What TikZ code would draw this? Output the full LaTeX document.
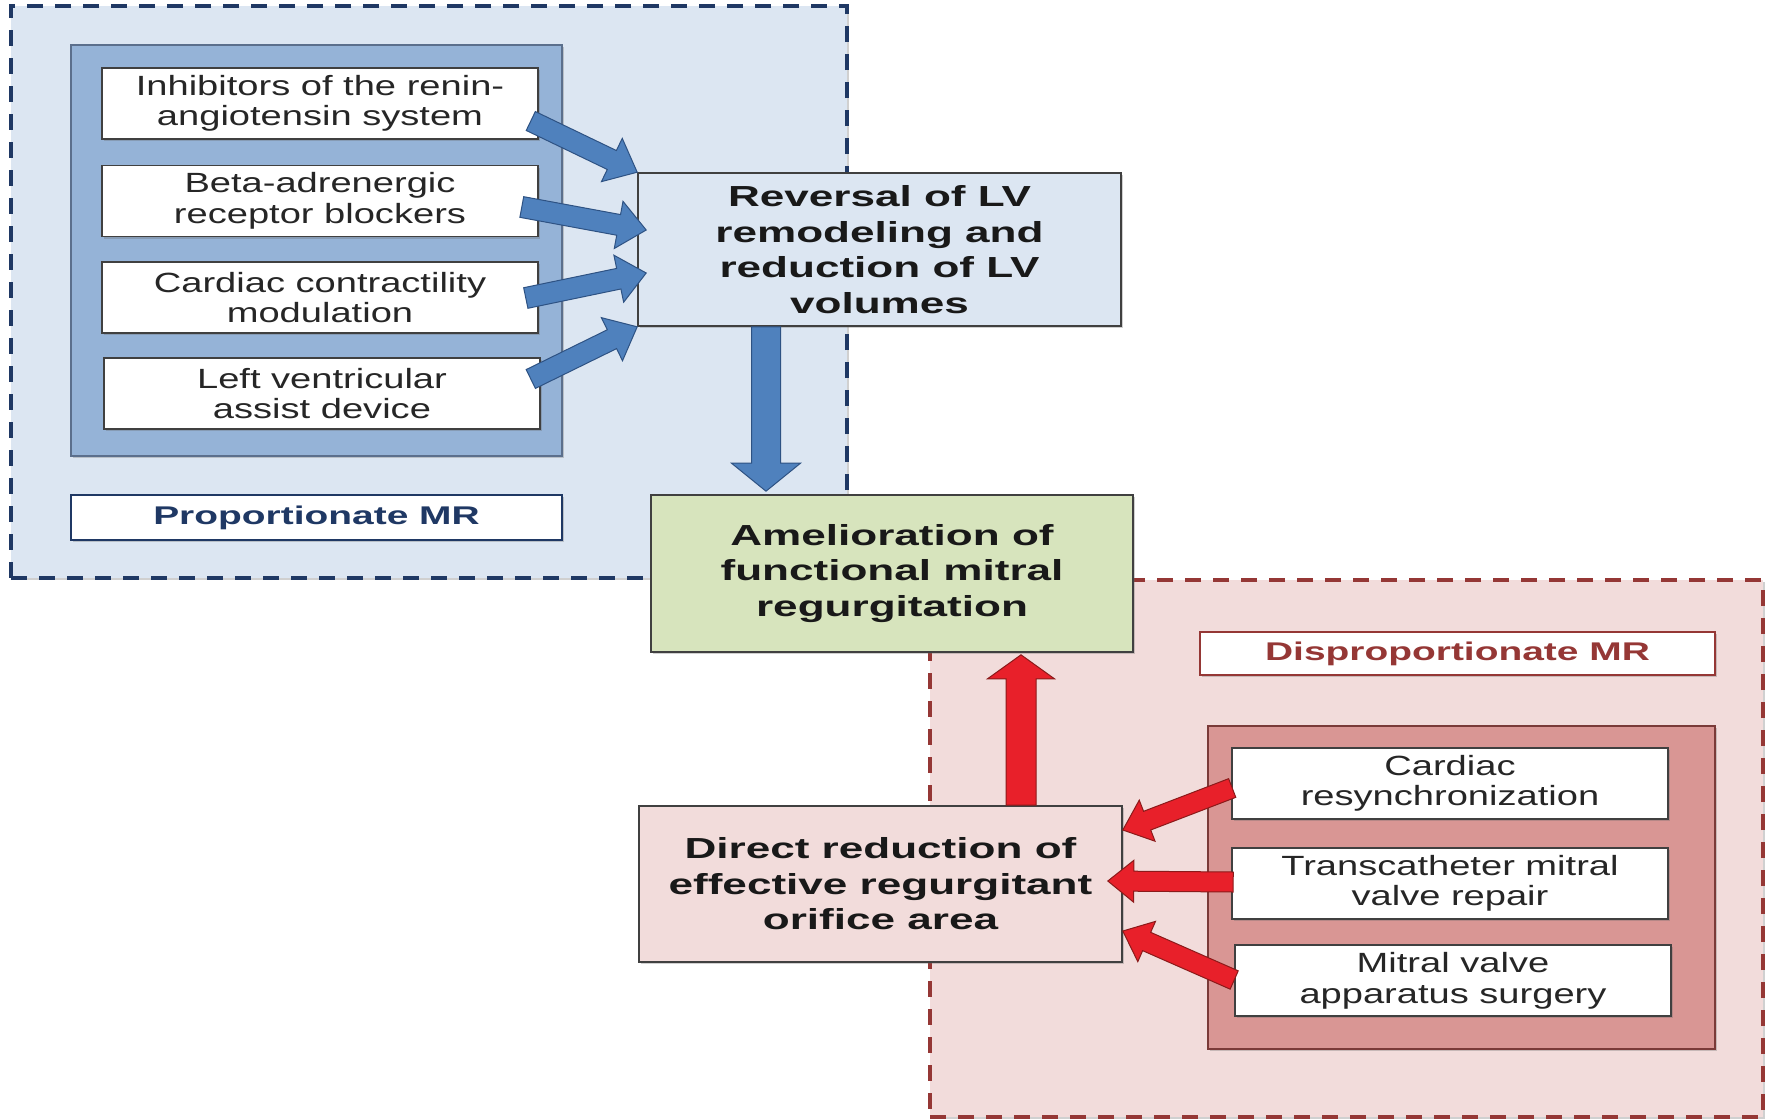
\documentclass[tikz,border=0pt]{standalone}
\usepackage{fontspec}
\usetikzlibrary{calc,shadows}
\newfontfamily\regfont[FakeStretch=1.37]{Liberation Sans}
\newfontfamily\bigfont[FakeStretch=1.52]{Liberation Sans}
\definecolor{propbg}{HTML}{DCE6F2}
\definecolor{navy}{HTML}{1F3864}
\definecolor{midblue}{HTML}{95B3D7}
\definecolor{midblueborder}{HTML}{5B6F8C}
\definecolor{amelgreen}{HTML}{D7E4BD}
\definecolor{arrowblue}{HTML}{4F81BD}
\definecolor{arrowblueborder}{HTML}{2E5283}
\definecolor{redbg}{HTML}{F2DCDB}
\definecolor{darkred}{HTML}{953735}
\definecolor{redinner}{HTML}{D99694}
\definecolor{redinnerborder}{HTML}{7A3A38}
\definecolor{arrowred}{HTML}{E8202A}
\definecolor{arrowredborder}{HTML}{8B1A1A}
\definecolor{boxborder}{HTML}{404040}
\definecolor{txt}{HTML}{262626}
\newcommand\blockarr[6]{%
  \draw[#1] let \p1=(#2), \p2=(#3),
    \n1={atan2(\y2-\y1,\x2-\x1)},
    \n2={veclen(\x2-\x1,\y2-\y1)-#6} in
    ($(\p1)+(\n1+90:#4)$)
    -- ($(\p1)+(\n1:{\n2*1pt})+(\n1+90:#4)$)
    -- ($(\p1)+(\n1:{\n2*1pt})+(\n1+90:#5)$)
    -- (\p2)
    -- ($(\p1)+(\n1:{\n2*1pt})+(\n1-90:#5)$)
    -- ($(\p1)+(\n1:{\n2*1pt})+(\n1-90:#4)$)
    -- ($(\p1)+(\n1-90:#4)$) -- cycle;}
\begin{document}
\begin{tikzpicture}[x=0.5pt,y=-0.5pt,
  shd/.style={drop shadow={shadow xshift=1pt,shadow yshift=-1pt,opacity=0.3,fill=black!60}},
  region/.style={line width=2.2pt,dash pattern=on 8pt off 6pt,inner sep=0pt,shd},
  group/.style={line width=0.8pt,inner sep=0pt,shd},
  whitebox/.style={draw=boxborder,fill=white,line width=0.8pt,inner sep=0pt,
    minimum width=218pt,minimum height=35.5pt,align=center,text=txt,shd,
    font=\regfont\fontsize{13.9}{15.3}\selectfont},
  bigbox/.style={draw=boxborder,line width=0.8pt,inner sep=0pt,align=center,text=black!90,shd,
    font=\bigfont\bfseries\fontsize{14.5}{17.75}\selectfont},
  labelbox/.style={fill=white,line width=1.2pt,inner sep=0pt,align=center,shd,
    font=\bigfont\bfseries\fontsize{12.8}{15}\selectfont},
  bluearrow/.style={fill=arrowblue,draw=arrowblueborder,line width=0.5pt,line join=miter},
  redarrow/.style={fill=arrowred,draw=arrowredborder,line width=0.5pt,line join=miter}]
\useasboundingbox (0,0) rectangle (1769,1120);
\fill[white] (0,0) rectangle (1769,1120);
% regions
\node[region,draw=navy,fill=propbg,minimum width=418pt,minimum height=286pt] (propreg) at (429,292) {};
\node[region,draw=darkred,fill=redbg,minimum width=416.5pt,minimum height=268.5pt] (dispreg) at (1346.5,848.5) {};
% proportionate side
\node[group,draw=midblueborder,fill=midblue,minimum width=245.5pt,minimum height=205.5pt] (propgroup) at (316.5,250.5) {};
\node[whitebox] (inh) at (320,103.5) {Inhibitors of the renin-\\angiotensin system};
\node[whitebox] (beta) at (320,201) {Beta-adrenergic\\receptor blockers};
\node[whitebox] (ccm) at (320,297.5) {Cardiac contractility\\modulation};
\node[whitebox] (lvad) at (322,393.5) {Left ventricular\\assist device};
\node[labelbox,draw=navy,text=navy,minimum width=245.5pt,minimum height=22.5pt] (proplabel) at (316.5,517.5) {Proportionate MR};
% central boxes
\node[bigbox,fill=propbg,minimum width=241.5pt,minimum height=76.5pt] (rev) at (879.5,249.5) {Reversal of LV\\remodeling and\\reduction of LV\\volumes};
\node[bigbox,fill=amelgreen,minimum width=241pt,minimum height=78.5pt] (amel) at (892,573.5) {Amelioration of\\functional mitral\\regurgitation};
% disproportionate side
\node[labelbox,draw=darkred,text=darkred,minimum width=257.5pt,minimum height=21.5pt] (displabel) at (1457.5,653.5) {Disproportionate MR};
\node[group,draw=redinnerborder,fill=redinner,minimum width=253.5pt,minimum height=161.5pt] (dispgroup) at (1461.5,887.5) {};
\node[whitebox] (crt) at (1450,783.5) {Cardiac\\resynchronization};
\node[whitebox] (tmvr) at (1450,883.5) {Transcatheter mitral\\valve repair};
\node[whitebox] (mvs) at (1453,980.5) {Mitral valve\\apparatus surgery};
\node[bigbox,fill=redbg,minimum width=241.5pt,minimum height=78pt] (dr) at (880.5,884) {Direct reduction of\\effective regurgitant\\orifice area};
% connector end points
\coordinate (dtop) at ($(rev.south)+(-113.5,0)$);
\coordinate (dtip) at ($(dtop |- amel.north)+(0,-3)$);
\coordinate (ubot) at ($(dr.north)+(140.5,0)$);
\coordinate (utip) at ($(ubot |- amel.south)+(0,2)$);
% blue arrows
\blockarr{bluearrow}{$(inh.east)+(-8,17.5)$}{rev.north west}{5.25pt}{12pt}{14pt}
\blockarr{bluearrow}{$(beta.east)+(-17,6)$}{$(rev.west)+(9,-19.5)$}{5.25pt}{12pt}{14pt}
\blockarr{bluearrow}{$(ccm.east)+(-13,0.5)$}{$(rev.west)+(9,23.5)$}{5.25pt}{12pt}{14pt}
\blockarr{bluearrow}{$(lvad.east)+(-10,-14.5)$}{rev.south west}{5.25pt}{12pt}{14pt}
\blockarr{bluearrow}{dtop}{dtip}{7.25pt}{17.25pt}{14pt}
% red arrows
\blockarr{redarrow}{$(crt.west)+(1,4.5)$}{$(dr.east)+(0,-54)$}{5pt}{11pt}{13pt}
\blockarr{redarrow}{$(tmvr.west)+(2,-1.5)$}{$(dr.east)+(-15,-3)$}{5pt}{10.5pt}{13pt}
\blockarr{redarrow}{$(mvs.west)+(0,-0.5)$}{$(dr.east)+(0,47)$}{5pt}{11pt}{13pt}
\blockarr{redarrow}{ubot}{utip}{7.5pt}{16.75pt}{12pt}
\end{tikzpicture}
\end{document}
